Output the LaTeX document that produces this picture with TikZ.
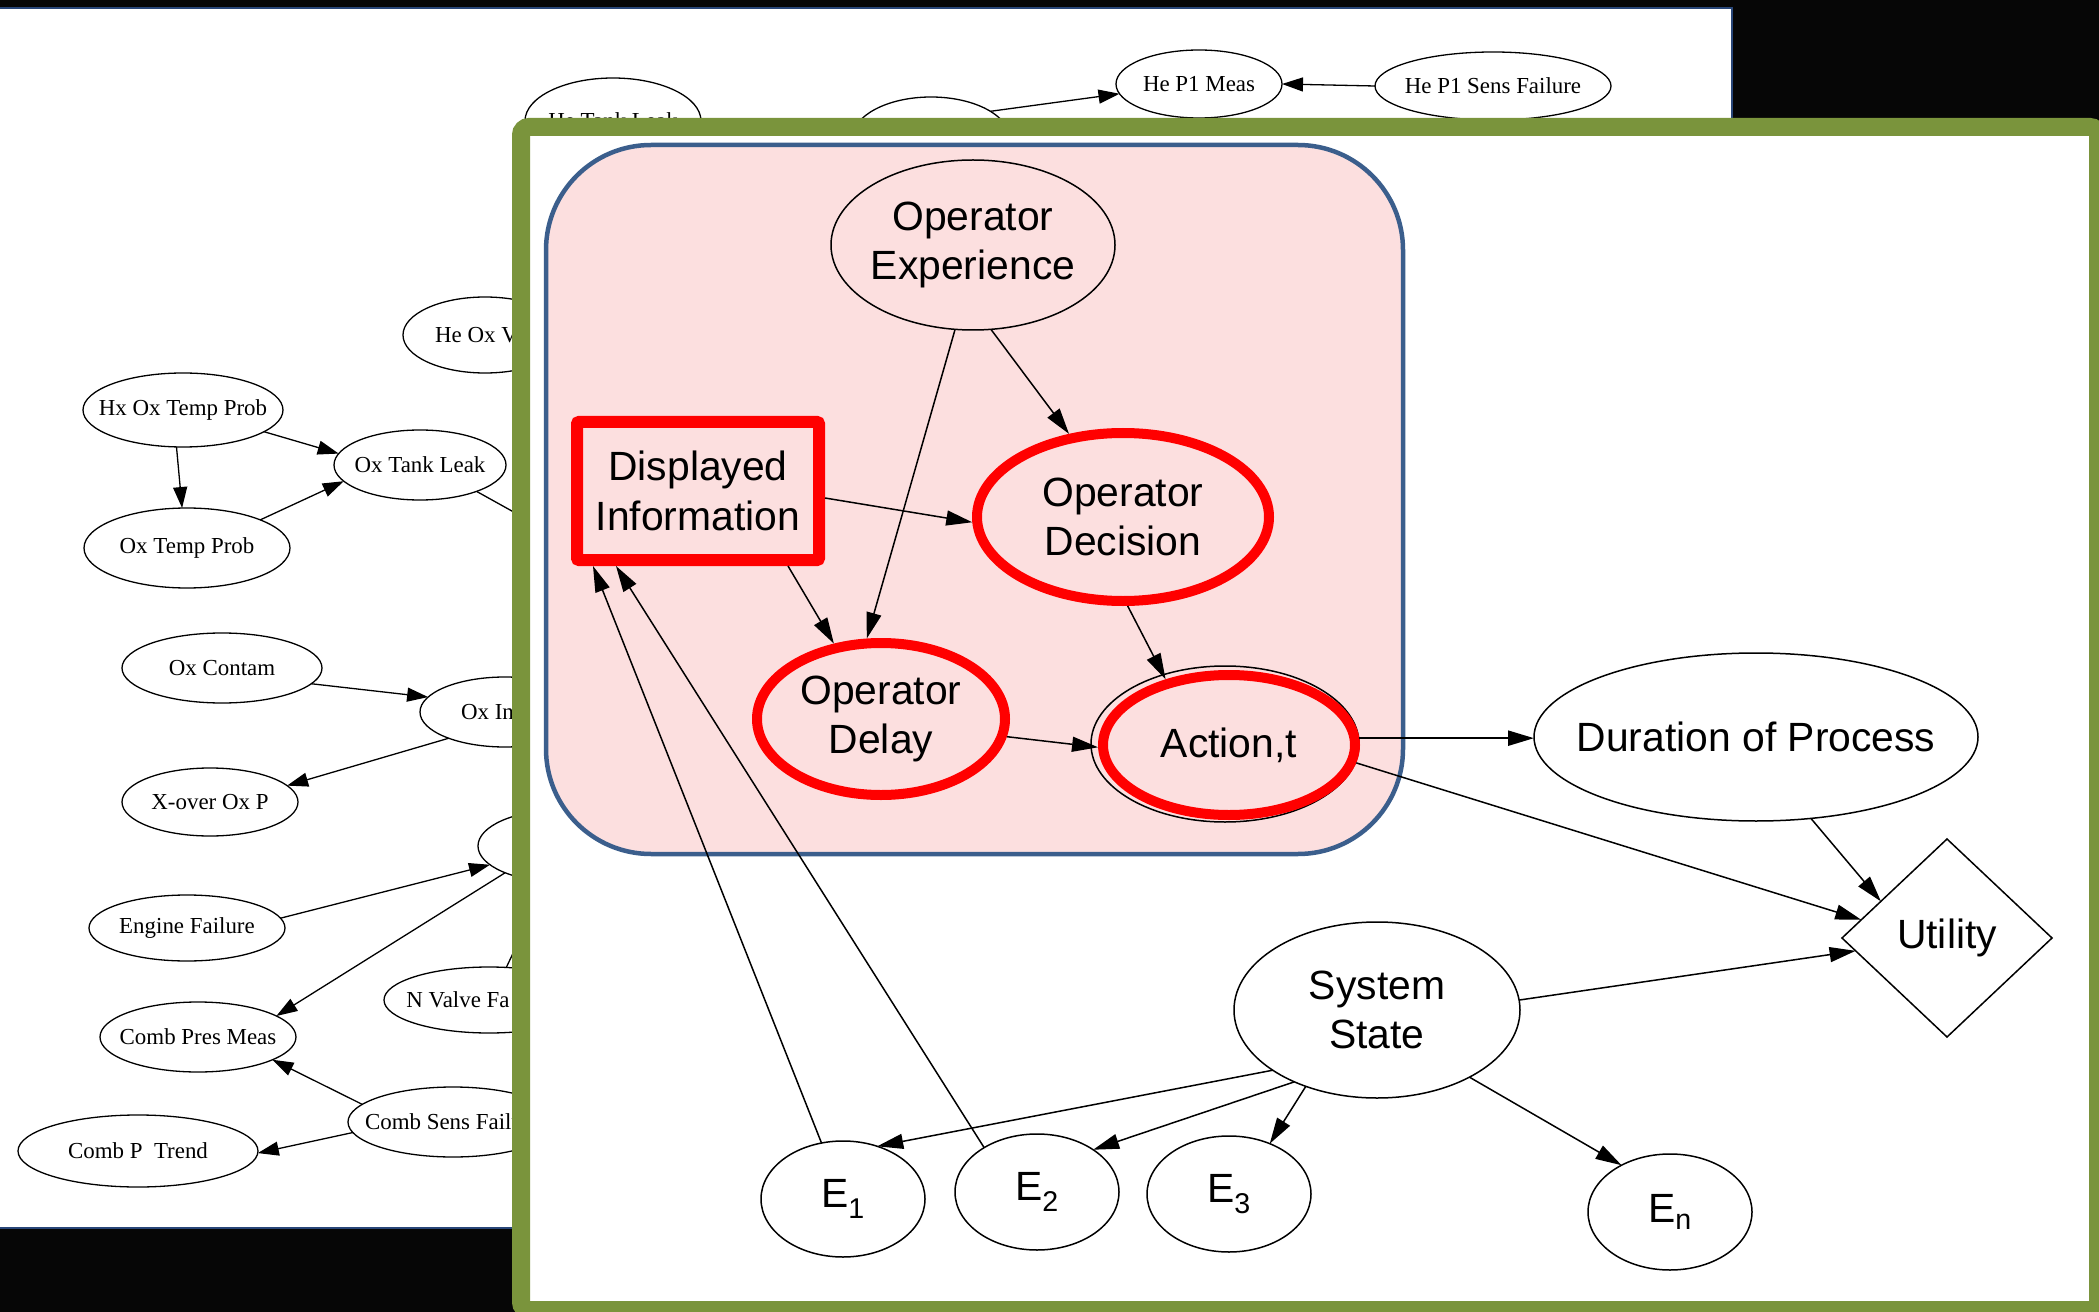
\documentclass[tikz,border=0pt]{standalone}
\usepackage{fontspec}
\setmainfont{Liberation Sans}
\newfontfamily\graphserif{Liberation Serif}
\usetikzlibrary{shapes.geometric,arrows.meta}
\definecolor{framegreen}{RGB}{122,148,60}
\definecolor{panelpink}{RGB}{252,223,223}
\definecolor{panelblue}{RGB}{59,94,140}
\definecolor{pageblue}{RGB}{40,70,120}
\definecolor{bgdark}{RGB}{6,6,6}

\begin{document}
\begin{tikzpicture}[x=1bp,y=-1bp,
  sz/.style 2 args={minimum width=#1bp,minimum height=#2bp},
  oldnode/.style={ellipse,draw,line width=1.3bp,inner xsep=-16bp,inner ysep=0pt,outer sep=0pt,fill=white,
    font=\graphserif\fontsize{23}{27}\selectfont},
  oldarr/.style={-{Triangle[length=21bp,width=14bp]},line width=1.3bp},
  newnode/.style={ellipse,draw,line width=1.5bp,inner xsep=-25bp,inner ysep=0pt,outer sep=0pt,align=center,
    font=\fontsize{41}{50}\selectfont},
  hilite/.style={draw=red,line width=10bp,outer sep=5bp},
  newarr/.style={-{Triangle[length=26bp,width=15bp]},line width=1.5bp},
]
\useasboundingbox (0,0) rectangle (2099,1312);

% dark backdrop and the underlying page
\fill[bgdark] (0,0) rectangle (2099,1312);
\filldraw[fill=white,draw=pageblue,line width=2bp] (-4,8) rectangle (1732,1228);

% ---- fault-tree style network on the page ----
\node[oldnode,sz={200}{74}] (hx) at (183,410) {Hx Ox Temp Prob};
\node[oldnode,sz={206}{80}] (oxtemp) at (187,548) {Ox Temp Prob};
\node[oldnode,sz={172}{70}] (oxtank) at (420,465) {Ox Tank Leak};
\node[oldnode,sz={164}{76}] (heox) at (485,335) {He Ox V\hspace*{17bp}};
\node[oldnode,sz={200}{70}] (oxcontam) at (222,668) {Ox Contam};
\node[oldnode,sz={170}{70}] (oxin) at (505,712) {Ox In\hspace*{35bp}};
\node[oldnode,sz={176}{68}] (xover) at (210,802) {X-over Ox P};
\node[oldnode,sz={164}{72}] (mid) at (560,846) {};
\node[oldnode,sz={196}{66}] (engine) at (187,928) {Engine Failure};
\node[oldnode,sz={210}{66}] (nvalve) at (489,1000) {N Valve Fa\hspace*{62bp}};
\node[oldnode,sz={196}{70}] (combpres) at (198,1037) {Comb Pres Meas};
\node[oldnode,sz={210}{70}] (combsens) at (453,1122) {Comb Sens Failu\hspace*{18bp}};
\node[oldnode,sz={240}{72}] (combtrend) at (138,1151) {Comb P\ \ Trend};

\node[oldnode,sz={166}{68}] (p1meas) at (1199,84) {He P1 Meas};
\node[oldnode,sz={236}{68}] (p1sens) at (1493,86) {He P1 Sens Failure};
\node[oldnode,sz={158}{84}] (heline) at (931,139) {};
\node[oldnode,sz={176}{86}] (hetank) at (613,121) {He Tank Leak};

\coordinate (offA) at (600,560);
\draw[oldarr] (hx.-15) -- (oxtank.172);
\draw[oldarr] (hx.-100) -- (oxtemp.97);
\draw[oldarr] (oxtemp.21) -- (oxtank.192);
\draw[line width=1.3bp] (oxtank.-25) -- (offA);
\draw[oldarr] (oxcontam.-10) -- (oxin.169);
\draw[oldarr] (oxin.205) -- (xover.12);
\draw[oldarr] (engine.6) -- (mid.195);
\draw[oldarr] (mid.206) -- (combpres.15);
\draw[oldarr] (nvalve.62) -- (mid.-110);
\draw[oldarr] (combsens.169) -- (combpres.-17);
\draw[oldarr] (combsens.186) -- (combtrend.-1);
\draw[oldarr] (heline.25) -- (p1meas.187);
\draw[oldarr] (p1sens.west) -- (p1meas.east);

% ---- green framed panel on top ----
\draw[framegreen,line width=18bp,fill=white,rounded corners=8bp] (521,127) rectangle (2098,1310);

% operator sub-model
\draw[panelblue,fill=panelpink,line width=4.5bp,rounded corners=105bp] (546,145) rectangle (1403,854);

\node[newnode] [sz={284}{170}] (exp) at (973,245) {Operator\\Experience};
\node[draw=red,line width=12bp,outer sep=6bp,inner sep=0pt,sz={242}{138},rounded corners=2bp,
  align=center,font=\fontsize{41}{50}\selectfont] (disp) at (698,491) {Displayed\\Information};
\node[newnode,hilite,sz={292}{168}] (dec) at (1123,517) {Operator\\Decision};
\node[newnode,hilite,sz={248}{152}] (delay) at (881,719) {Operator\\Delay};
\draw[line width=1.5bp] (1225,744) ellipse [x radius=134bp,y radius=78bp];
\node[newnode,hilite,sz={252}{140}] (act) at (1229,745) {Action,t};

\node[newnode,sz={444}{168}] (dur) at (1756,737) {Duration of Process};
\node[diamond,draw,line width=1.5bp,inner sep=0pt,outer sep=0pt,sz={210}{198},
  font=\fontsize{41}{50}\selectfont] (util) at (1947,938) {Utility};
\node[newnode,sz={286}{176}] (sys) at (1377,1010) {System\\State};
\node[newnode,sz={164}{116}] (e1) at (843,1199) {E\textsubscript{1}};
\node[newnode,sz={164}{116}] (e2) at (1037,1192) {E\textsubscript{2}};
\node[newnode,sz={164}{116}] (e3) at (1229,1194) {E\textsubscript{3}};
\node[newnode,sz={164}{116}] (en) at (1670,1212) {E\textsubscript{n}};

\draw[newarr] (exp.-78) -- (dec.123);
\draw[newarr] (exp.-102) -- (delay.100);
\draw[newarr] ([yshift=-7bp]disp.east) -- (dec.182);
\draw[newarr] ([xshift=90bp]disp.south) -- (delay.122);
\draw[newarr] (dec.-87) -- (act.134);
\draw[newarr] (delay.-8) -- (act.181);
\draw[newarr,line width=2.4bp] (act.3) -- (act.3 -| dur.west);
\draw[newarr] (act.-8) -- (util.168);
\draw[newarr] (dur.-56) -- (util.151);
\draw[newarr] (sys.4) -- (util.188);
\draw[newarr] (e1.111) -- ([xshift=-105bp]disp.south);
\draw[newarr] (e2.140) -- ([xshift=-82bp]disp.south);
\draw[newarr] (sys.-150) -- (e1.57);
\draw[newarr] (sys.-139) -- (e2.37);
\draw[newarr] (sys.-133) -- (e3.51);
\draw[newarr] (sys.-36) -- (en.136);
\end{tikzpicture}
\end{document}
